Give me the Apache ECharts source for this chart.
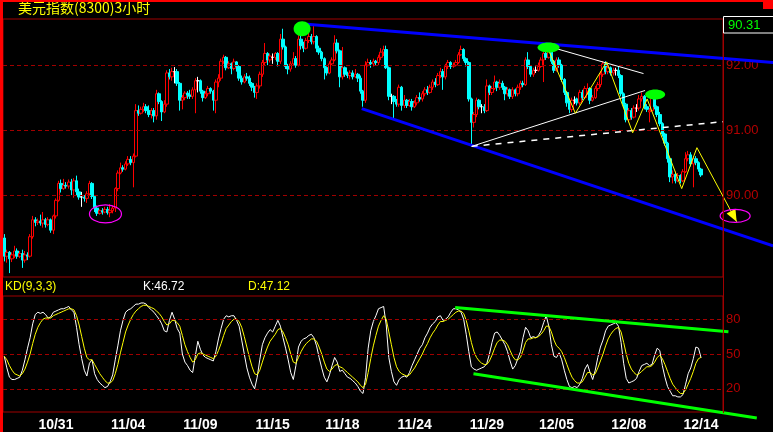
<!DOCTYPE html>
<html>
<head>
<meta charset="utf-8">
<script src="https://cdn.jsdelivr.net/npm/echarts@6/dist/echarts.min.js"></script>
<style>
html,body{margin:0;padding:0;background:#000;}
#c{width:773px;height:432px;}
</style>
</head>
<body>
<div id="c"></div>
<script>
// ---------- data ----------
const titleText = '美元指数(8300)3小时';
const kdTitle = 'KD(9,3,3)';
const dateLabels = ['10/31','11/04','11/09','11/15','11/18','11/24','11/29','12/05','12/08','12/14'];
const dateIdx = [20, 48, 76, 104, 131, 159, 187, 214, 242, 270];
const priceTicks = [90, 91, 92];
const kdTicks = [20, 50, 80];

const openVals = [
89.34,89.06,89.12,89.02,89.08,89.14,89.06,89.10,89.00,89.08,
89.06,89.36,89.62,89.58,89.60,89.57,89.62,89.55,89.62,89.46,
89.68,89.92,90.18,90.10,90.15,90.14,90.20,90.08,90.22,90.05,
89.97,89.97,89.95,90.02,90.18,89.98,89.80,89.72,89.76,89.74,
89.78,89.73,89.76,89.80,90.10,90.34,90.42,90.40,90.48,90.55,
90.50,90.60,91.30,91.26,91.32,91.36,91.30,91.24,91.30,91.22,
91.56,91.44,91.28,91.40,91.88,91.82,91.90,91.90,91.72,91.46,
91.50,91.57,91.54,91.52,91.62,91.76,91.76,91.60,91.50,91.56,
91.64,91.60,91.46,91.74,91.80,92.06,92.12,91.96,92.02,91.95,
92.05,91.98,91.80,91.74,91.82,91.80,91.72,91.66,91.58,91.68,
91.86,92.04,92.18,92.08,92.12,92.12,92.18,92.06,92.40,92.28,
91.98,91.94,92.02,92.10,92.00,92.40,92.30,92.26,92.38,92.44,
92.36,92.44,92.26,92.20,92.10,91.96,91.88,92.02,92.08,92.34,
92.22,91.82,91.96,91.86,91.84,91.88,91.82,91.86,91.80,91.60,
91.46,92.00,92.04,92.02,92.06,92.04,92.12,92.20,92.24,91.96,
91.52,91.52,91.44,91.40,91.66,91.38,91.46,91.38,91.44,91.36,
91.42,91.50,91.48,91.56,91.62,91.58,91.66,91.74,91.70,91.84,
91.90,91.82,91.98,92.04,91.98,92.00,92.04,92.16,92.24,92.10,
92.04,91.48,91.12,91.24,91.46,91.36,91.36,91.30,91.68,91.58,
91.64,91.74,91.66,91.72,91.66,91.56,91.62,91.52,91.62,91.56,
91.66,91.72,91.70,92.08,91.98,91.86,91.92,91.92,91.98,92.08,
92.18,92.12,92.20,92.06,91.92,92.08,92.00,91.78,91.58,91.42,
91.32,91.46,91.48,91.42,91.58,91.50,91.60,91.64,91.46,91.50,
91.64,91.70,91.86,92.02,91.90,91.96,91.88,91.92,91.92,91.84,
91.56,91.40,91.16,91.30,91.20,91.34,91.34,91.48,91.52,91.36,
91.28,91.30,91.50,91.36,91.24,91.10,90.94,90.80,90.56,90.28,
90.32,90.22,90.30,90.22,90.36,90.56,90.62,90.48,90.56,90.50,
90.40];
const closeVals = [
89.06,89.12,89.02,89.08,89.14,89.06,89.10,89.00,89.08,89.06,
89.36,89.62,89.58,89.60,89.57,89.62,89.55,89.62,89.46,89.68,
89.92,90.18,90.10,90.15,90.14,90.20,90.08,90.22,90.05,89.97,
89.97,89.95,90.02,90.18,89.98,89.80,89.72,89.76,89.74,89.78,
89.73,89.76,89.80,90.10,90.34,90.42,90.40,90.48,90.55,90.50,
90.60,91.30,91.26,91.32,91.36,91.30,91.24,91.30,91.22,91.56,
91.44,91.28,91.40,91.88,91.82,91.90,91.90,91.72,91.46,91.50,
91.57,91.54,91.52,91.62,91.76,91.76,91.60,91.50,91.56,91.64,
91.60,91.46,91.74,91.80,92.06,92.12,91.96,92.02,91.95,92.05,
91.98,91.80,91.74,91.82,91.80,91.72,91.66,91.58,91.68,91.86,
92.04,92.18,92.08,92.14,92.12,92.18,92.06,92.40,92.28,91.98,
91.94,92.02,92.10,92.00,92.40,92.30,92.26,92.38,92.44,92.36,
92.44,92.26,92.20,92.10,91.96,91.88,92.02,92.08,92.34,92.22,
91.82,91.96,91.86,91.84,91.88,91.82,91.86,91.80,91.60,91.46,
92.00,92.04,92.02,92.06,92.04,92.12,92.20,92.24,91.96,91.52,
91.52,91.44,91.40,91.66,91.38,91.46,91.38,91.44,91.36,91.42,
91.50,91.48,91.56,91.62,91.58,91.66,91.74,91.70,91.84,91.90,
91.82,91.98,92.04,91.98,92.00,92.04,92.16,92.24,92.10,92.04,
91.48,91.12,91.24,91.46,91.36,91.36,91.30,91.68,91.58,91.64,
91.74,91.66,91.72,91.66,91.56,91.62,91.52,91.62,91.56,91.66,
91.72,91.70,92.08,91.98,91.86,91.92,91.92,91.98,92.08,92.18,
92.12,92.20,92.06,91.92,92.08,92.00,91.78,91.58,91.42,91.32,
91.46,91.46,91.42,91.58,91.50,91.64,91.64,91.46,91.50,91.64,
91.70,91.86,92.02,91.90,91.96,91.88,91.92,91.92,91.84,91.56,
91.40,91.16,91.30,91.20,91.34,91.34,91.48,91.52,91.36,91.32,
91.30,91.50,91.36,91.24,91.10,90.94,90.80,90.56,90.28,90.32,
90.22,90.30,90.22,90.36,90.56,90.62,90.48,90.56,90.50,90.40,
90.31];
const lowVals = [
88.98,88.96,88.80,88.97,89.03,89.02,89.03,88.88,88.96,89.00,
89.04,89.33,89.52,89.54,89.53,89.50,89.50,89.52,89.42,89.40,
89.64,89.90,90.04,90.08,90.10,90.10,90.00,89.96,90.00,89.93,
89.82,89.90,89.88,90.00,89.94,89.74,89.68,89.70,89.70,89.72,
89.70,89.66,89.72,89.74,90.06,90.32,90.36,90.38,90.45,90.46,
90.12,90.58,91.22,91.24,91.28,91.26,91.20,91.18,91.12,91.16,
91.40,91.14,91.26,91.36,91.78,91.76,91.72,91.68,91.30,91.32,
91.46,91.48,91.48,91.48,91.26,91.58,91.56,91.44,91.48,91.52,
91.56,91.30,91.26,91.66,91.76,92.02,91.92,91.94,91.86,91.92,
91.90,91.76,91.70,91.72,91.76,91.68,91.60,91.50,91.48,91.64,
91.82,92.00,92.00,92.04,92.02,92.08,91.98,92.02,92.24,91.94,
91.86,91.90,92.00,91.96,91.98,92.24,92.20,92.24,92.34,92.32,
92.32,92.20,92.16,92.06,91.78,91.84,91.86,92.00,92.06,92.18,
91.66,91.78,91.82,91.80,91.78,91.78,91.80,91.74,91.56,91.36,
91.42,91.98,91.96,91.98,92.00,92.00,92.08,92.14,91.94,91.46,
91.40,91.16,91.36,91.36,91.30,91.34,91.34,91.36,91.30,91.34,
91.38,91.44,91.44,91.52,91.54,91.56,91.62,91.66,91.68,91.80,
91.62,91.78,91.94,91.94,91.96,91.98,92.02,92.14,92.06,91.98,
91.44,90.76,91.04,91.20,91.32,91.26,91.26,91.28,91.54,91.54,
91.62,91.60,91.62,91.62,91.46,91.52,91.48,91.48,91.52,91.52,
91.62,91.66,91.68,91.94,91.82,91.82,91.88,91.90,91.96,91.74,
92.08,92.10,92.02,91.88,91.90,91.96,91.74,91.54,91.36,91.26,
91.28,91.40,91.38,91.38,91.46,91.48,91.54,91.40,91.44,91.48,
91.60,91.66,91.82,91.86,91.86,91.84,91.84,91.84,91.80,91.52,
91.34,91.12,91.12,91.16,91.18,91.28,91.30,91.44,91.32,91.28,
91.12,91.28,91.32,91.20,91.06,90.90,90.76,90.50,90.20,90.18,
90.18,90.20,90.18,90.20,90.34,90.52,90.44,90.12,90.46,90.36,
90.28];
const highVals = [
89.40,89.16,89.14,89.12,89.22,89.18,89.14,89.16,89.14,89.12,
89.40,89.68,89.66,89.64,89.70,89.74,89.65,89.66,89.64,89.70,
89.95,90.22,90.24,90.25,90.20,90.24,90.25,90.26,90.30,90.10,
90.05,90.00,90.06,90.22,90.20,90.00,89.84,89.78,89.80,89.82,
89.82,89.86,89.84,90.12,90.38,90.50,90.46,90.52,90.60,90.60,
90.64,91.40,91.38,91.36,91.42,91.40,91.38,91.34,91.34,91.62,
91.58,91.46,91.46,91.92,91.94,91.96,91.97,91.94,91.74,91.54,
91.60,91.60,91.62,91.66,91.80,91.82,91.78,91.62,91.60,91.68,
91.66,91.62,91.78,91.86,92.10,92.16,92.14,92.06,92.04,92.10,
92.06,92.00,91.84,91.86,91.88,91.84,91.74,91.68,91.72,91.90,
92.08,92.34,92.20,92.18,92.18,92.20,92.20,92.48,92.56,92.30,
92.02,92.06,92.20,92.14,92.46,92.56,92.36,92.42,92.50,92.48,
92.60,92.46,92.30,92.22,92.12,91.98,92.06,92.12,92.46,92.40,
92.24,92.28,91.98,91.90,91.92,91.92,91.94,91.88,91.84,91.62,
92.06,92.10,92.08,92.10,92.08,92.16,92.26,92.30,92.30,91.98,
91.56,91.54,91.48,91.70,91.68,91.54,91.48,91.48,91.48,91.46,
91.54,91.58,91.60,91.66,91.68,91.70,91.78,91.80,91.88,91.96,
91.94,92.02,92.08,92.06,92.04,92.08,92.20,92.30,92.26,92.12,
92.06,91.50,91.28,91.50,91.48,91.40,91.40,91.78,91.70,91.68,
91.84,91.76,91.78,91.76,91.68,91.66,91.64,91.66,91.64,91.70,
91.76,91.76,92.12,92.20,92.00,91.96,91.98,92.04,92.12,92.28,
92.24,92.26,92.22,92.08,92.12,92.12,92.02,91.80,91.60,91.46,
91.50,91.52,91.50,91.62,91.62,91.68,91.72,91.66,91.54,91.68,
91.74,91.90,92.06,92.06,92.00,91.98,91.96,91.96,91.98,91.86,
91.58,91.42,91.34,91.34,91.38,91.40,91.54,91.58,91.54,91.40,
91.34,91.56,91.52,91.38,91.28,91.12,90.96,90.82,90.58,90.38,
90.36,90.34,90.32,90.40,90.66,90.68,90.66,90.60,90.60,90.52,
90.42];

const kVals = [
48,38,30,28,28,29,30,36,45,55,
64,76,84,86,85,86,84,81,82,86,
87,88,89,89,90,91,88,86,73,58,
46,36,31,42,45,33,28,25,23,21,
22,26,32,45,57,70,79,86,88,89,
91,93,93,94,94,93,90,88,86,83,
80,76,70,69,79,86,80,72,68,50,
43,40,36,34,48,61,54,49,47,46,
45,44,52,63,72,80,83,82,83,83,
79,74,62,50,38,30,24,20,30,45,
58,64,68,71,69,74,79,74,64,55,
45,34,28,40,56,61,63,64,66,67,
64,57,47,38,30,26,32,40,47,43,
35,36,33,30,29,27,25,22,18,16,
30,55,70,78,83,89,90,91,75,47,
35,26,23,28,30,31,30,34,40,45,
50,55,58,64,68,73,76,78,82,83,
79,80,82,86,89,89,88,86,80,67,
52,39,37,36,37,38,39,42,50,60,
68,69,66,62,58,52,44,37,40,46,
52,64,73,70,64,65,64,66,70,77,
83,74,58,48,47,51,45,36,28,22,
21,22,21,24,29,37,41,34,28,36,
47,56,62,70,74,75,76,77,74,60,
42,29,25,26,27,29,35,40,41,42,
40,41,49,55,53,40,30,22,18,14,
14,13,13,15,24,33,38,46,56,55,
46.72];
const dVals = [
48,45,40,36,33,32,31,33,37,43,
50,59,67,73,77,80,81,81,81,83,
84,85,86,87,88,89,89,88,83,75,
65,55,47,45,45,41,37,33,30,27,
25,25,27,33,41,51,60,69,75,80,
84,87,89,91,92,92,91,90,89,87,
85,82,78,75,76,79,79,77,74,66,
58,52,47,43,45,50,51,50,49,48,
47,46,48,53,59,66,72,75,78,80,
80,78,73,65,56,47,39,33,32,36,
43,50,56,61,64,67,71,72,69,64,
58,50,43,42,47,52,56,59,61,63,
63,61,56,50,43,37,35,37,40,41,
39,38,36,34,32,30,28,26,23,21,
24,34,46,57,66,74,79,83,80,69,
58,47,39,35,33,32,31,32,35,38,
42,46,50,55,59,64,68,71,75,78,
78,79,80,82,84,86,87,87,85,79,
70,60,52,47,44,42,41,41,44,49,
55,60,62,62,61,58,53,48,45,45,
47,53,60,63,63,64,64,65,67,70,
74,74,69,62,57,55,52,47,41,35,
30,27,25,25,26,30,34,34,32,33,
38,44,50,57,63,67,70,72,73,69,
60,50,42,37,34,32,33,35,37,39,
39,40,43,47,49,46,41,35,29,24,
21,18,16,16,19,24,29,35,42,46,
47.12];

// annotation anchors in data space: [bar index, price] / [bar index, KD value]
const upperBlue = [[117.3, 92.63], [297.9, 92.04]];
const lowerBlue = [[138.5, 91.33], [297.9, 89.22]];
const whiteSolid = [[181.1, 90.75], [248.3, 91.61]];
const whiteDash = [[181.1, 90.75], [278.5, 91.13]];
const whiteTop = [[210.7, 92.29], [247.7, 91.87]];
const yellowZig = [[210.7, 92.25], [221.3, 91.26], [233.4, 92.05], [243.5, 90.96], [249.1, 91.48], [262.5, 90.10], [268.4, 90.73], [283.8, 89.59]];
const greenDots = [[115.4, 92.56], [210.9, 92.27], [252.2, 91.55]];
const magentaRings = [[39.2, 89.71], [283.2, 89.68]];
const kdUpper = [[174.7, 90.0], [280.6, 69.1]];
const kdLower = [[181.8, 32.9], [291.6, -5.1]];

// ---------- chart ----------
const NB = 279;
const cats = [];
for (let i = 0; i < NB; i++) cats.push(String(i));
const labelMap = {};
dateIdx.forEach((k, j) => { labelMap[k] = dateLabels[j]; });
const candleData = openVals.map((o, i) => [o, closeVals[i], lowVals[i], highVals[i]]);

const DR = '#a00000';
const LBL = '#b40000';
const NARROW = "'Liberation Sans Narrow','Liberation Sans',sans-serif";

const chart = echarts.init(document.getElementById('c'), null, {renderer: 'canvas'});
chart.setOption({
  backgroundColor: '#000000',
  animation: false,
  grid: [
    {left: 3, top: 19, width: 720, height: 258, show: true, borderColor: DR, borderWidth: 1, backgroundColor: 'transparent'},
    {left: 3, top: 296, width: 720, height: 117, show: true, borderColor: DR, borderWidth: 1, backgroundColor: 'transparent'}
  ],
  xAxis: [
    {type: 'category', gridIndex: 0, data: cats, boundaryGap: true, show: false},
    {type: 'category', gridIndex: 1, data: cats, boundaryGap: true,
      axisLine: {show: false}, axisTick: {show: false}, splitLine: {show: false},
      axisLabel: {
        interval: (idx) => labelMap[idx] !== undefined,
        formatter: (v, idx) => labelMap[idx] || '',
        color: '#ffffff', fontWeight: 'bold', fontSize: 14,
        fontFamily: "'Liberation Sans',Arial,sans-serif", margin: 6
      }},
    {type: 'value', gridIndex: 0, min: -0.5, max: NB - 0.5, show: false},
    {type: 'value', gridIndex: 1, min: -0.5, max: NB - 0.5, show: false}
  ],
  yAxis: [
    {type: 'value', gridIndex: 0, min: 88.74, max: 92.71, show: false, splitLine: {show: false}},
    {type: 'value', gridIndex: 1, min: 0, max: 100, show: false, splitLine: {show: false}}
  ],
  series: [
    {
      type: 'candlestick', xAxisIndex: 0, yAxisIndex: 0, data: candleData,
      barWidth: 3,
      itemStyle: {
        color: '#000000', color0: '#00ffff',
        borderColor: '#ff0000', borderColor0: '#00ffff',
        borderColorDoji: '#ffffff', borderWidth: 1
      },
      markLine: {
        silent: true, symbol: ['none', 'none'], animation: false,
        lineStyle: {color: DR, type: [4, 3], width: 1},
        label: {position: 'end', distance: 3, color: LBL, fontSize: 13, fontFamily: NARROW,
          formatter: (p) => Number(p.value).toFixed(2)},
        emphasis: {disabled: true},
        data: priceTicks.map(v => ({yAxis: v}))
      }
    },
    {
      type: 'line', name: 'K', xAxisIndex: 1, yAxisIndex: 1, data: kVals,
      symbol: 'none', lineStyle: {color: '#ffffff', width: 1}, z: 3,
      markLine: {
        silent: true, symbol: ['none', 'none'], animation: false,
        lineStyle: {color: DR, type: [4, 3], width: 1},
        label: {position: 'end', distance: 3, color: LBL, fontSize: 13, fontFamily: NARROW,
          formatter: (p) => String(Math.round(p.value))},
        emphasis: {disabled: true},
        data: kdTicks.map(v => ({yAxis: v}))
      }
    },
    {
      type: 'line', name: 'D', xAxisIndex: 1, yAxisIndex: 1, data: dVals,
      symbol: 'none', lineStyle: {color: '#ffff00', width: 1}, z: 4
    }
  ]
});

// ---------- overlays ----------
const P = pt => chart.convertToPixel({xAxisIndex: 2, yAxisIndex: 0}, pt);
const Q = pt => chart.convertToPixel({xAxisIndex: 3, yAxisIndex: 1}, pt);
const g = [];
function poly(pts, conv, color, w, dash) {
  g.push({type: 'polyline', silent: true, z: 60,
    shape: {points: pts.map(conv)},
    style: {stroke: color, lineWidth: w, lineDash: dash || null, fill: null}});
}
poly(upperBlue, P, '#0000ff', 3);
poly(lowerBlue, P, '#0000ff', 3);
poly(whiteSolid, P, '#ffffff', 1);
poly(whiteDash, P, '#ffffff', 1.5, [6, 6]);
poly(whiteTop, P, '#ffffff', 1);
poly(yellowZig, P, '#ffff00', 1);
// arrow head at end of yellow path
(function () {
  const a = P(yellowZig[yellowZig.length - 2]);
  const b = P(yellowZig[yellowZig.length - 1]);
  const dx = b[0] - a[0], dy = b[1] - a[1];
  const L = Math.sqrt(dx * dx + dy * dy);
  const ux = dx / L, uy = dy / L;
  const bx = b[0] - ux * 12, by = b[1] - uy * 12;
  g.push({type: 'polygon', silent: true, z: 61,
    shape: {points: [[b[0], b[1]], [bx - uy * 5, by + ux * 5], [bx + uy * 5, by - ux * 5]]},
    style: {fill: '#ffff00'}});
})();
poly(kdUpper, Q, '#00ff00', 3);
poly(kdLower, Q, '#00ff00', 3);
const greenSizes = [[8.5, 7.5], [11, 5], [10, 5]];
greenDots.forEach((d, i) => {
  const p = P(d);
  g.push({type: 'ellipse', silent: true, z: 62,
    shape: {cx: p[0], cy: p[1], rx: greenSizes[i][0], ry: greenSizes[i][1]},
    style: {fill: '#00ff00'}});
});
const ringSizes = [[16, 9], [15, 6.5]];
magentaRings.forEach((d, i) => {
  const p = P(d);
  g.push({type: 'ellipse', silent: true, z: 62,
    shape: {cx: p[0], cy: p[1], rx: ringSizes[i][0], ry: ringSizes[i][1]},
    style: {fill: null, stroke: '#ff00ff', lineWidth: 1.2}});
});

// frame, header texts and last-price box
g.push({type: 'line', silent: true, z: 70, shape: {x1: 723.5, y1: 17, x2: 723.5, y2: 413}, style: {stroke: DR, lineWidth: 1}});
g.push({type: 'rect', silent: true, z: 80, shape: {x: 0, y: 0, width: 3, height: 432}, style: {fill: '#ff0000'}});
g.push({type: 'rect', silent: true, z: 80, shape: {x: 0, y: 0, width: 773, height: 2}, style: {fill: '#ff0000'}});
g.push({type: 'rect', silent: true, z: 80, shape: {x: 763, y: 0, width: 10, height: 9}, style: {fill: '#ff0000'}});
g.push({type: 'rect', silent: true, z: 75, shape: {x: 723.5, y: 16.5, width: 50, height: 16.5}, style: {fill: '#000000', stroke: '#ffffff', lineWidth: 1}});
g.push({type: 'text', silent: true, z: 76, x: 728, y: 25,
  style: {text: closeVals[closeVals.length - 1].toFixed(2), fill: '#00ff00', font: "13px " + NARROW, verticalAlign: 'middle'}});
g.push({type: 'text', silent: true, z: 76, x: 18, y: 8,
  style: {text: titleText, fill: '#ffff00', font: "14px 'Noto Sans CJK SC',sans-serif", verticalAlign: 'middle'}});
g.push({type: 'text', silent: true, z: 76, x: 5, y: 287,
  style: {text: kdTitle, fill: '#ffff00', font: "12px " + NARROW, verticalAlign: 'middle'}});
g.push({type: 'text', silent: true, z: 76, x: 143, y: 287,
  style: {text: 'K:' + kVals[kVals.length - 1].toFixed(2), fill: '#ffffff', font: "12px " + NARROW, verticalAlign: 'middle'}});
g.push({type: 'text', silent: true, z: 76, x: 248, y: 287,
  style: {text: 'D:' + dVals[dVals.length - 1].toFixed(2), fill: '#ffff00', font: "12px " + NARROW, verticalAlign: 'middle'}});

chart.setOption({graphic: {elements: g}});
</script>
</body>
</html>
